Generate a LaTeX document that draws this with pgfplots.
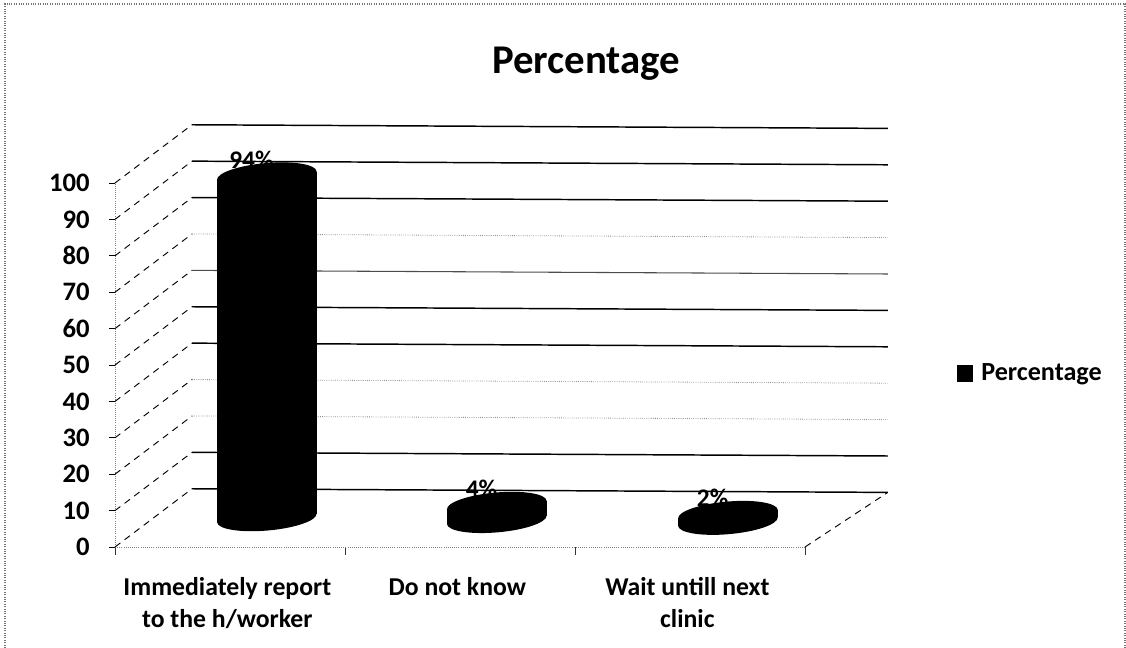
\documentclass[border=0pt]{standalone}
\usepackage{pgfplots}
\usepackage{pgfplotstable}
\usepackage{fontspec}
\setmainfont{Carlito}
\pgfplotsset{compat=1.18}
\pgfplotstableread{
x base value
0.16 8.0 94
1.16 7.5 4
2.165 7.0 2
}\bars
\pgfdeclareplotmark{cyl}{%
  \pgftransformrotate{5}%
  \pgfpathellipse{\pgfpointorigin}{\pgfqpoint{37.5pt}{0pt}}{\pgfqpoint{0pt}{9.5pt}}%
  \pgfusepathqfill}
\tikzset{
  dark/.style={black,line width=1.1pt},
  mid/.style={black!70,line width=0.8pt},
  faint/.style={black!45,line width=0.6pt,densely dotted},
  side/.style={black,line width=0.7pt,dashed,dash pattern=on 5pt off 4pt}
}
\begin{document}
\begin{tikzpicture}[x=0.75pt,y=0.75pt]
\path[use as bounding box] (0,0) rectangle (1126,648);
\draw[black!55,line width=0.8pt,densely dotted] (5,0) -- (5,644) -- (1125,644) -- (1125,0);
\begin{axis}[
  at={(86.25pt,75.75pt)},anchor=south west,
  scale only axis,width=517.5pt,height=273pt,
  xmin=-0.5,xmax=2.5,ymin=0,ymax=100,
  clip=false,
  axis x line*=bottom,axis y line*=left,
  axis line style={black!50,line width=0.6pt,densely dotted},
  xtick={0,1,2},
  xticklabels={{Immediately report\\to the h/worker},{Do not know},{Wait untill next\\clinic}},
  minor xtick={-0.5,0.5,1.5,2.5},
  ytick={0,10,...,100},
  tick align=outside,
  major tick length=4.5pt,minor tick length=6pt,
  major x tick style={draw=none},
  minor x tick style={black!80,line width=0.6pt},
  major y tick style={black,line width=0.7pt},
  xticklabel style={font=\bfseries\fontsize{19.3}{24}\selectfont,align=center,yshift=-14.5pt,xshift=-2pt},
  yticklabel style={font=\bfseries\fontsize{20}{24}\selectfont,xshift=-11pt},
  /pgf/number format/assume math mode=true,
  title={Percentage},
  title style={at={(0.683,1.305)},anchor=center,font=\bfseries\fontsize{30.6}{36}\selectfont},
  legend style={at={(1.22,0.478)},anchor=west,draw=none,fill=none,inner sep=0pt,
    font=\bfseries\fontsize{19.6}{24}\selectfont,legend cell align=left},
  legend image code/.code={\fill[black] (0pt,-6pt) rectangle (11.5pt,6pt);\path[draw=none] (0pt,0pt) -- (16pt,0pt);},
]
% back wall lines
\addplot[dark,forget plot] coordinates {(-0.165,116)(2.86,115)};
\addplot[dark,forget plot] coordinates {(-0.165,106)(2.86,105)};
\addplot[dark,forget plot] coordinates {(-0.165,96)(2.86,95)};
\addplot[faint,forget plot] coordinates {(-0.165,86)(2.86,85)};
\addplot[mid,forget plot] coordinates {(-0.165,76)(2.86,75)};
\addplot[dark,forget plot] coordinates {(-0.165,66)(2.86,65)};
\addplot[dark,forget plot] coordinates {(-0.165,56)(2.86,55)};
\addplot[faint,forget plot] coordinates {(-0.165,46)(2.86,45)};
\addplot[faint,forget plot] coordinates {(-0.165,36)(2.86,35)};
\addplot[dark,forget plot] coordinates {(-0.165,26)(2.86,25)};
\addplot[dark,forget plot] coordinates {(-0.165,16)(2.86,15)};
% side wall lines
\addplot[side,forget plot] coordinates {(-0.5,100)(-0.165,116)};
\addplot[side,forget plot] coordinates {(-0.5,90)(-0.165,106)};
\addplot[side,forget plot] coordinates {(-0.5,80)(-0.165,96)};
\addplot[side,forget plot] coordinates {(-0.5,70)(-0.165,86)};
\addplot[side,forget plot] coordinates {(-0.5,60)(-0.165,76)};
\addplot[side,forget plot] coordinates {(-0.5,50)(-0.165,66)};
\addplot[side,forget plot] coordinates {(-0.5,40)(-0.165,56)};
\addplot[side,forget plot] coordinates {(-0.5,30)(-0.165,46)};
\addplot[side,forget plot] coordinates {(-0.5,20)(-0.165,36)};
\addplot[side,forget plot] coordinates {(-0.5,10)(-0.165,26)};
\addplot[side,forget plot] coordinates {(-0.5,0)(-0.165,16)};
\addplot[side,forget plot] coordinates {(2.5,0)(2.86,15)};
% data labels, behind the cylinders
\addplot[draw=none,mark=none,forget plot,
  point meta=\thisrow{value},
  nodes near coords={\pgfmathprintnumber[precision=0]{\pgfplotspointmeta}\%},
  nodes near coords style={anchor=center,xshift=-11.5pt,yshift=12pt,text=black,
    font=\bfseries\fontsize{19}{20}\selectfont}]
  table[x=x,y expr=\thisrow{base}+\thisrow{value}] {\bars};
% cylinder bottoms
\addplot[only marks,mark=cyl,black,forget plot]
  table[x=x,y=base] {\bars};
% cylinder bodies: left half sits lower, right half higher, as the ellipses tilt
\addplot[draw=none,mark=none,forget plot,
  error bars/.cd,y dir=minus,y explicit,error mark=none,
  error bar style={black,line width=37.5pt}]
  table[x expr=\thisrow{x}-0.1078,y expr=\thisrow{base}+\thisrow{value}-1.12,y error=value] {\bars};
\addplot[draw=none,mark=none,forget plot,
  error bars/.cd,y dir=minus,y explicit,error mark=none,
  error bar style={black,line width=37.5pt}]
  table[x expr=\thisrow{x}+0.1078,y expr=\thisrow{base}+\thisrow{value}+1.12,y error=value] {\bars};
% cylinder tops
\addplot[only marks,mark=cyl,black]
  table[x=x,y expr=\thisrow{base}+\thisrow{value}] {\bars};
\addlegendentry{Percentage}
\end{axis}
\end{tikzpicture}
\end{document}
